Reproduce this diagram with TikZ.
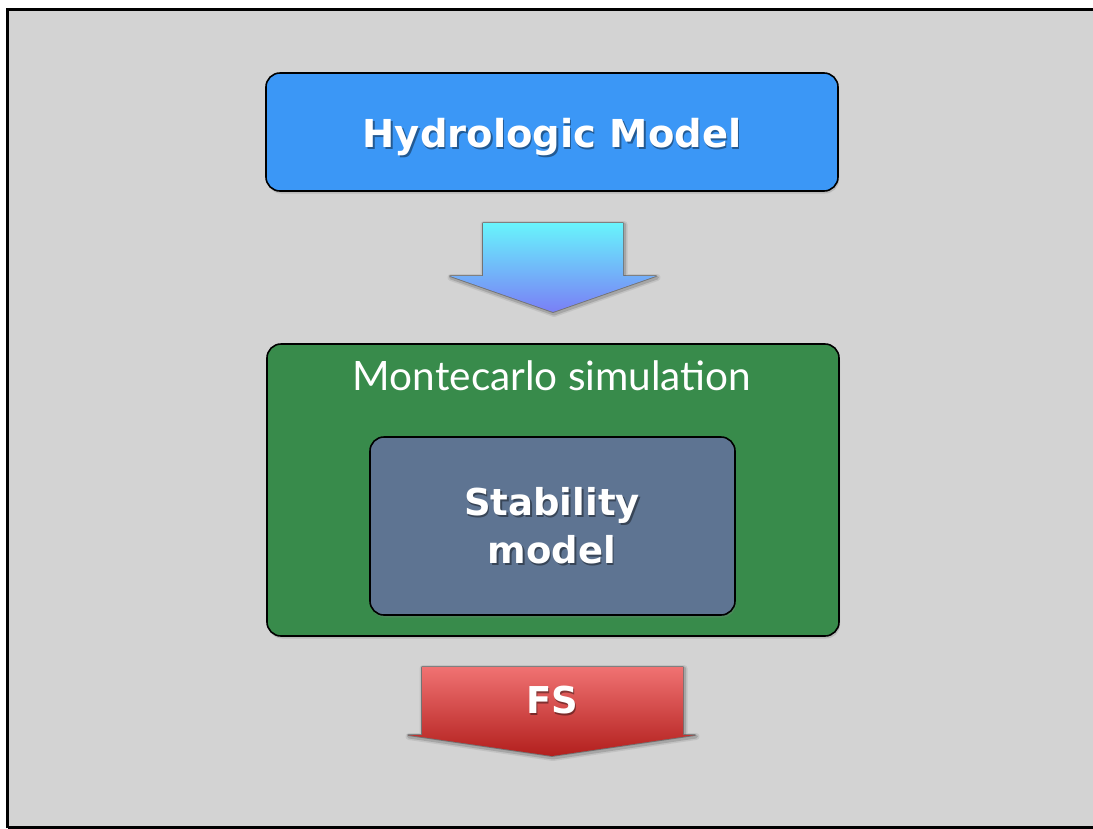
\documentclass[tikz,border=0pt]{standalone}
\usepackage{fontspec}
\setmainfont{Lato}
\newfontfamily\headfont{DejaVu Sans}
\usetikzlibrary{shadows}

\definecolor{slidebg}{HTML}{D3D3D3}
\definecolor{hydblue}{HTML}{3B97F6}
\definecolor{mcgreen}{HTML}{388B4B}
\definecolor{stabslate}{HTML}{5E7492}
\definecolor{cyantop}{HTML}{68F4FC}
\definecolor{violetbot}{HTML}{7A7FF6}
\definecolor{redtop}{HTML}{F07272}
\definecolor{redbot}{HTML}{B21F1D}

\begin{document}
\begin{tikzpicture}[x=1pt,y=-1pt,
  box/.style={draw=black, line width=1.6pt, rounded corners=14pt, inner sep=0pt,
    drop shadow={opacity=0.3, shadow xshift=1pt, shadow yshift=-2.5pt}},
  lbl/.style={text=white, inner sep=0pt, anchor=base},
  lblshade/.style={text=black, opacity=0.4, inner sep=0pt, anchor=base},
  glowouter/.style={draw=black, line join=round, opacity=0.08, line width=7pt},
  glow/.style={draw=black, line join=round, opacity=0.14, line width=4pt},
  glowin/.style={draw=black, line join=round, opacity=0.3, line width=1.8pt},
  bigbold/.style={font=\headfont\fontsize{38.5}{42}\selectfont\bfseries},
  midbold/.style={font=\headfont\fontsize{37}{42}\selectfont\bfseries},
]
  % page and frame
  \fill[white] (0,0) rectangle (1093,828);
  \useasboundingbox (0,0) rectangle (1093,828);
  \fill[slidebg] (7.5,9) rectangle (1093,828);
  \draw[line width=3pt] (7.5,828) -- (7.5,9) -- (1093,9);
  \draw[line width=3pt] (7.5,827) -- (1093,827);

  % hydrologic model box
  \node[box, fill=hydblue, minimum width=572pt, minimum height=118pt] (hyd) at (552,132) {};
  \node[lblshade, bigbold] (hydshade) at (553.5,149) {Hydrologic Model};
  \node[lbl, bigbold] (hydtext) at (552,147) {Hydrologic Model};

  % down arrow from the hydrologic model
  \begin{scope}[shift={(1,1.5)}]
    \path[glowouter] (483,223) -- (623,223) -- (623,276) -- (656,276) -- (553,312) -- (450,276) -- (483,276) -- cycle;
    \path[glow] (483,223) -- (623,223) -- (623,276) -- (656,276) -- (553,312) -- (450,276) -- (483,276) -- cycle;
  \end{scope}
  \path[glowin] (483,223) -- (623,223) -- (623,276) -- (656,276) -- (553,312) -- (450,276) -- (483,276) -- cycle;
  \shade[top color=cyantop, bottom color=violetbot]
    (483,223) -- (623,223) -- (623,276) -- (656,276) -- (553,312) -- (450,276) -- (483,276) -- cycle;

  % Montecarlo simulation container
  \node[box, fill=mcgreen, minimum width=572pt, minimum height=292pt] (mc) at (553,490) {};
  \node[lbl, font=\fontsize{40.5}{44}\selectfont] (mctext) at (552,390) {Montecarlo simulation};

  % stability model box
  \node[box, fill=stabslate, minimum width=365pt, minimum height=178pt] (stab) at (552.5,526) {};
  \node[lblshade, midbold] (stabshadeA) at (553.5,517) {Stability};
  \node[lblshade, midbold] (stabshadeB) at (553.5,565) {model};
  \node[lbl, midbold] (stabA) at (552,515) {Stability};
  \node[lbl, midbold] (stabB) at (552,563) {model};

  % FS output arrow
  \begin{scope}[shift={(1,1.5)}]
    \path[glowouter] (422,667) -- (683,667) -- (683,735) -- (695,735) -- (552,756) -- (408,735) -- (422,735) -- cycle;
    \path[glow] (422,667) -- (683,667) -- (683,735) -- (695,735) -- (552,756) -- (408,735) -- (422,735) -- cycle;
  \end{scope}
  \path[glowin] (422,667) -- (683,667) -- (683,735) -- (695,735) -- (552,756) -- (408,735) -- (422,735) -- cycle;
  \shade[top color=redtop, bottom color=redbot]
    (422,667) -- (683,667) -- (683,735) -- (695,735) -- (552,756) -- (408,735) -- (422,735) -- cycle;
  \node[lblshade, midbold] (fsshade) at (553.5,715) {FS};
  \node[lbl, midbold] (fs) at (552,713) {FS};
\end{tikzpicture}
\end{document}
